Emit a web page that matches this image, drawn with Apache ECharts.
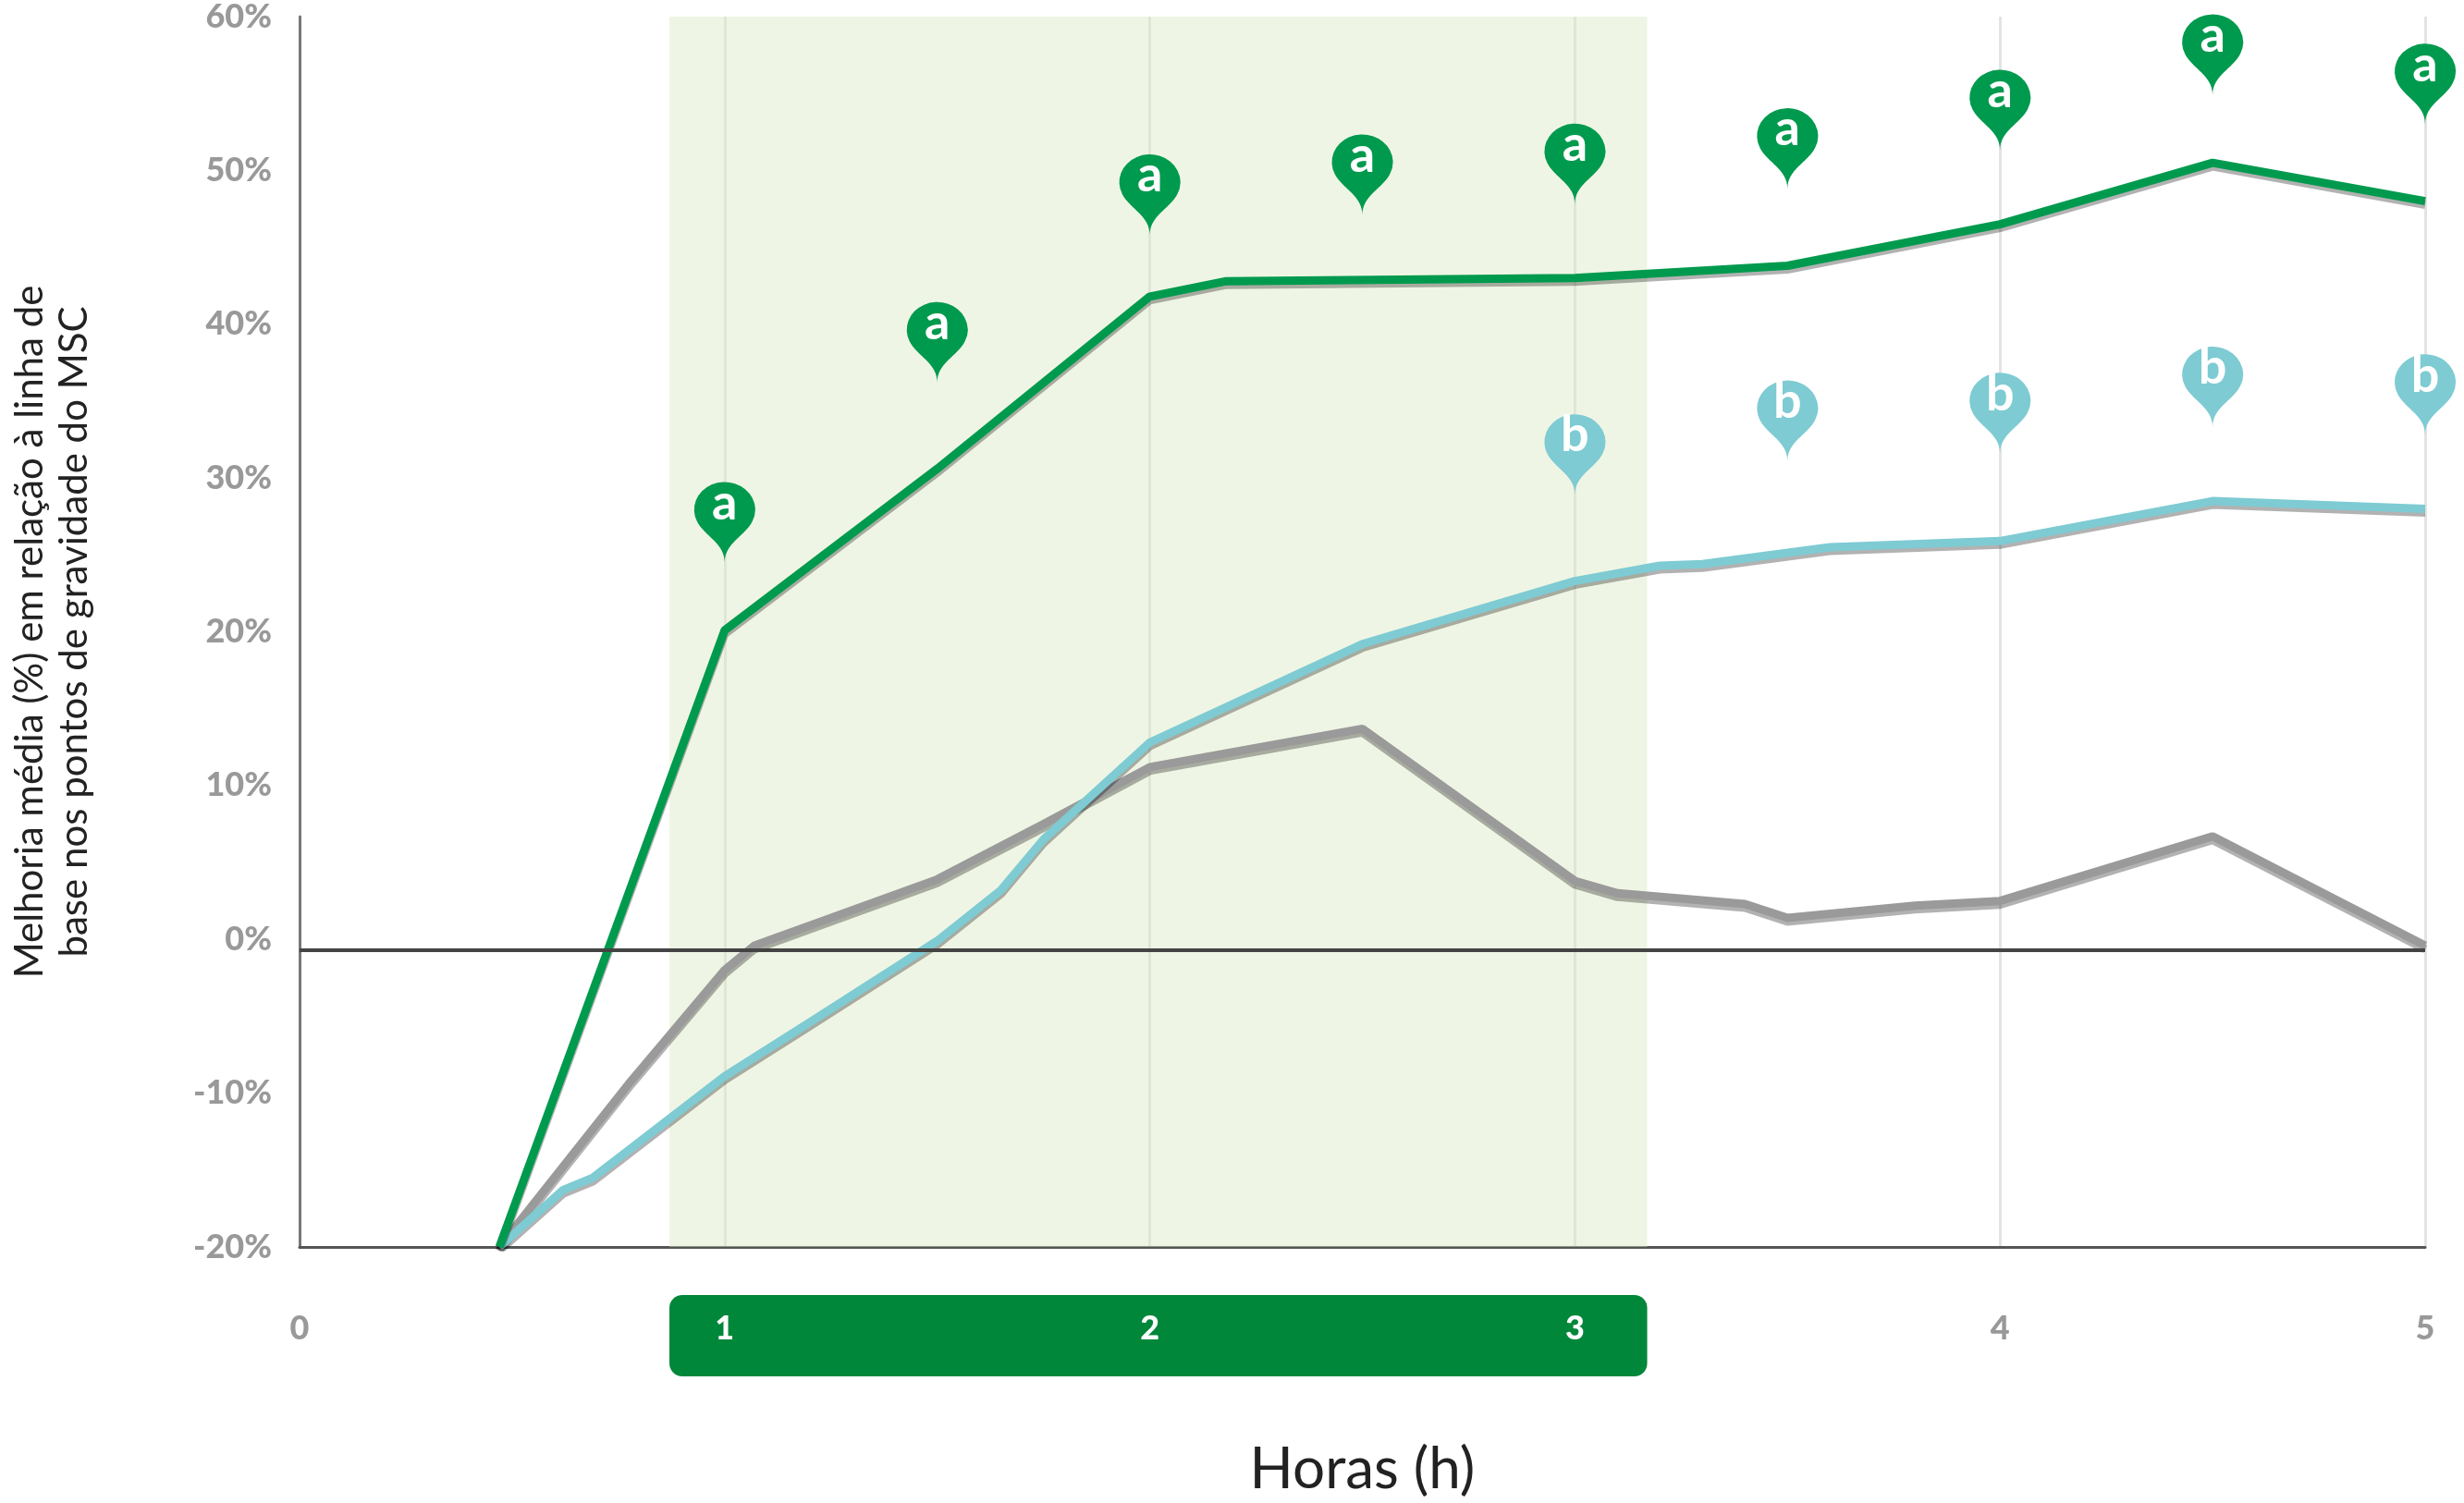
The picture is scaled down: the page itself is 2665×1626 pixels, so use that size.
<!DOCTYPE html>
<html><head><meta charset="utf-8">
<script src="https://cdn.jsdelivr.net/npm/echarts@6/dist/echarts.min.js"></script>
<style>html,body{margin:0;background:#fff}#c{width:2665px;height:1626px}</style>
</head><body><div id="c"></div>
<script>
// dados
var greenLine = [[0.47,-20],[1,20.1],[1.5,30.6],[2,41.8],[2.18,42.8],[3,43],[3.5,43.8],[4,46.5],[4.5,50.5],[5,48]];
var blueLine = [[0.47,-20],[0.62,-16.3],[0.69,-15.5],[1,-8.9],[1.2,-5.4],[1.5,-0.1],[1.65,3.2],[1.75,6.5],[2,12.8],[2.5,19.2],[3,23.3],[3.2,24.3],[3.3,24.4],[3.6,25.5],[4,25.9],[4.5,28.5],[5,28]];
var grayLine = [[0.47,-20],[0.78,-9.2],[1,-2],[1.07,-0.4],[1.5,3.9],[1.75,7.5],[2,11.2],[2.5,13.7],[3,3.8],[3.1,3],[3.4,2.3],[3.5,1.4],[3.8,2.2],[4,2.5],[4.5,6.7],[5,-0.4]];
var greenPins = [[1,21.5],[1.5,33.2],[2,42.8],[2.5,44.1],[3,44.8],[3.5,45.8],[4,48.3],[4.5,51.9],[5,50]];
var bluePins = [[3,25.9],[3.5,28.1],[4,28.6],[4.5,30.3],[5,29.8]];
var shadeRange = [0.87,3.17];
var zeroLine = -0.7;

var FONT = 'Lato, "Noto Sans", sans-serif';
var myChart = echarts.init(document.getElementById('c'));

function lineSeries(data,color){
	return {type:'line',data:data,symbol:'none',z:3,
		lineStyle:{color:color,width:9,shadowColor:'rgba(0,0,0,0.3)',shadowOffsetY:4,shadowBlur:0}};
}
function pinSeries(data,color,txt){
	return {type:'scatter',data:data,symbol:'pin',symbolSize:[110,100],symbolOffset:[0,-50],z:5,
		itemStyle:{color:color,opacity:1},
		label:{show:true,position:'inside',offset:[0,-12],formatter:txt,color:'#fff',fontSize:54,fontWeight:'bold',fontFamily:FONT}};
}

var option = {
	animation:false,
	grid:{left:309,right:42,top:17,bottom:268},
	xAxis:{type:'value',min:0,max:5,interval:1,
		axisLine:{show:true,onZero:false,lineStyle:{color:'#555',width:3}},
		axisTick:{show:false},
		splitLine:{show:true,lineStyle:{color:'#e3e3e3',width:3}},
		axisLabel:{margin:70,fontSize:36,fontWeight:900,fontFamily:FONT,
			color:function(v){return (v>=1&&v<=3)?'#fff':'#999';}},
		name:'Horas (h)',nameLocation:'middle',nameGap:210,
		nameTextStyle:{fontSize:62,color:'#222',fontFamily:FONT}},
	yAxis:{type:'value',min:-20,max:60,interval:10,
		axisLine:{show:true,lineStyle:{color:'#777',width:3}},
		axisTick:{show:false},splitLine:{show:false},
		axisLabel:{margin:30,fontSize:36,fontWeight:900,fontFamily:FONT,color:'#999',formatter:'{value}%'},
		name:'Melhoria média (%) em relação à linha de\nbase nos pontos de gravidade do MSC',
		nameLocation:'middle',nameGap:220,
		nameTextStyle:{fontSize:42,color:'#222',fontFamily:FONT,lineHeight:48}},
	series:[
		{type:'line',data:[],z:1,
			markArea:{silent:true,itemStyle:{color:'rgba(220,232,196,0.45)',borderRadius:12},data:[[{xAxis:shadeRange[0]},{xAxis:shadeRange[1]}]]},
			markLine:{silent:true,symbol:'none',label:{show:false},lineStyle:{color:'#444',width:4,type:'solid'},data:[{yAxis:zeroLine}]}},
		lineSeries(grayLine,'#9a9a9a'),
		lineSeries(blueLine,'#7ecbd3'),
		lineSeries(greenLine,'#009a4e'),
		pinSeries(greenPins,'#009a4e','a'),
		pinSeries(bluePins,'#7ecbd3','b')
	]
};
myChart.setOption(option);

// barra verde das horas 1-3
var p0 = myChart.convertToPixel({gridIndex:0},[shadeRange[0],-20]);
var p1 = myChart.convertToPixel({gridIndex:0},[shadeRange[1],-20]);
myChart.setOption({graphic:[{type:'rect',z:-1,shape:{x:p0[0],y:p0[1]+52,width:p1[0]-p0[0],height:88,r:14},style:{fill:'#00873a'}}]});
</script>
</body></html>
